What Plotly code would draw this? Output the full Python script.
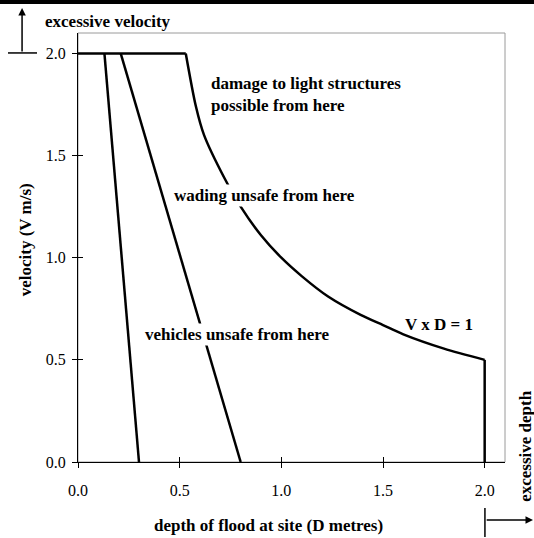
import plotly.graph_objects as go

# ---- data ----
top_depth = [0.0, 0.53]
top_velocity = [2.0, 2.0]

vehicles_depth = [0.13, 0.30]
vehicles_velocity = [2.0, 0.0]

wading_depth = [0.21, 0.80]
wading_velocity = [2.0, 0.0]

damage_depth = [0.53, 0.58, 0.62, 0.72, 0.80, 0.90, 1.00, 1.10, 1.23, 1.39, 1.50, 1.60, 1.80, 2.00]
damage_velocity = [2.00, 1.74, 1.60, 1.39, 1.25, 1.11, 1.00, 0.91, 0.81, 0.72, 0.67, 0.625, 0.555, 0.50]

limit_depth = [2.00, 2.00]
limit_velocity = [0.50, 0.00]

tick_vals = [0.0, 0.5, 1.0, 1.5, 2.0]
tick_text = ["0.0", "0.5", "1.0", "1.5", "2.0"]

FONT = "Liberation Serif"
LINE = dict(color="black", width=2.5)

fig = go.Figure()
for xs, ys, shape in [(top_depth, top_velocity, "linear"),
                      (vehicles_depth, vehicles_velocity, "linear"),
                      (wading_depth, wading_velocity, "linear"),
                      (damage_depth, damage_velocity, "spline"),
                      (limit_depth, limit_velocity, "linear")]:
    fig.add_trace(go.Scatter(x=xs, y=ys, mode="lines", line=dict(LINE, shape=shape, smoothing=0.8),
                             hoverinfo="skip", showlegend=False, cliponaxis=False))

# invisible trace to activate the overlay axes (inside tick halves)
fig.add_trace(go.Scatter(x=[None], y=[None], xaxis="x2", yaxis="y2", showlegend=False,
                         hoverinfo="skip"))

axis_common = dict(range=[0, 2.1], tickvals=tick_vals, ticktext=tick_text,
                   showgrid=False, zeroline=False, showline=True, linecolor="black",
                   linewidth=1, ticks="outside", ticklen=5, tickcolor="black",
                   tickfont=dict(family=FONT, size=16, color="black"))

fig.update_layout(
    width=534, height=538,
    margin=dict(l=78, r=29, t=33, b=76),
    paper_bgcolor="white", plot_bgcolor="white",
    xaxis=dict(axis_common, ticklabelstandoff=9),
    yaxis=dict(axis_common, ticklabelstandoff=3),
    xaxis2=dict(range=[0, 2.1], tickvals=tick_vals, overlaying="x", anchor="y2", side="bottom",
                ticks="inside", ticklen=5, tickcolor="black", showticklabels=False,
                showgrid=False, zeroline=False, showline=False),
    yaxis2=dict(range=[0, 2.1], tickvals=tick_vals, overlaying="y", anchor="x2", side="left",
                ticks="inside", ticklen=5, tickcolor="black", showticklabels=False,
                showgrid=False, zeroline=False, showline=False),
    font=dict(family=FONT, color="black"),
    hovermode=False,
)

shapes = [
    dict(type="rect", xref="paper", yref="paper", x0=0, x1=1, y0=0, y1=1,
         line=dict(color="#9a9a9a", width=1), layer="below"),
    dict(type="rect", xref="paper", yref="paper", x0=-0.19, x1=1.08, y0=1.0676, y1=1.08,
         line=dict(width=0), fillcolor="black"),
    dict(type="line", xref="paper", yref="paper", x0=-0.164, x1=-0.096, y0=0.9535, y1=0.9535,
         line=dict(color="black", width=1.5)),
    dict(type="line", xref="paper", yref="paper", x0=0.953, x1=0.953, y0=-0.107, y1=-0.175,
         line=dict(color="black", width=1.5)),
]
fig.update_layout(shapes=shapes)

bold = dict(family=FONT, size=17, color="black")
ann = [
    dict(x=0.645, y=1.855, xref="x", yref="y", text="<b>damage to light structures</b>",
         xanchor="left", yanchor="middle", showarrow=False, font=bold),
    dict(x=0.645, y=1.747, xref="x", yref="y", text="<b>possible from here</b>",
         xanchor="left", yanchor="middle", showarrow=False, font=bold),
    dict(x=0.915, y=1.307, xref="x", yref="y", text="<b>wading unsafe from here</b>",
         xanchor="center", yanchor="middle", showarrow=False, font=bold, bgcolor="white"),
    dict(x=0.78, y=0.622, xref="x", yref="y", text="<b>vehicles unsafe from here</b>",
         xanchor="center", yanchor="middle", showarrow=False, font=bold, bgcolor="white"),
    dict(x=1.773, y=0.671, xref="x", yref="y", text="<b>V x D = 1</b>",
         xanchor="center", yanchor="middle", showarrow=False, font=bold),
    dict(x=0.447, y=-0.147, xref="paper", yref="paper", text="<b>depth of flood at site (D metres)</b>",
         xanchor="center", yanchor="middle", showarrow=False, font=bold),
    dict(x=-0.124, y=0.517, xref="paper", yref="paper", text="<b>velocity (V m/s)</b>",
         xanchor="center", yanchor="middle", showarrow=False, font=bold, textangle=-90),
    dict(x=-0.082, y=1.026, xref="paper", yref="paper", text="<b>excessive velocity</b>",
         xanchor="left", yanchor="middle", showarrow=False, font=bold),
    dict(x=-0.131, y=1.058, xref="paper", yref="paper", ax=0, ay=45,
         text="", showarrow=True, arrowhead=2,
         arrowsize=1, arrowwidth=1.5, arrowcolor="black"),
    dict(x=1.046, y=0.037, xref="paper", yref="paper", text="<b>excessive depth</b>",
         xanchor="center", yanchor="middle", showarrow=False, font=bold, textangle=-90),
    dict(x=1.066, y=-0.135, xref="paper", yref="paper", ax=-48, ay=0,
         text="", showarrow=True, arrowhead=2,
         arrowsize=1, arrowwidth=1.5, arrowcolor="black"),
]
fig.update_layout(annotations=ann)

fig.write_html("out.html", config={"displayModeBar": False},
               post_script="document.body.style.margin='0';")
